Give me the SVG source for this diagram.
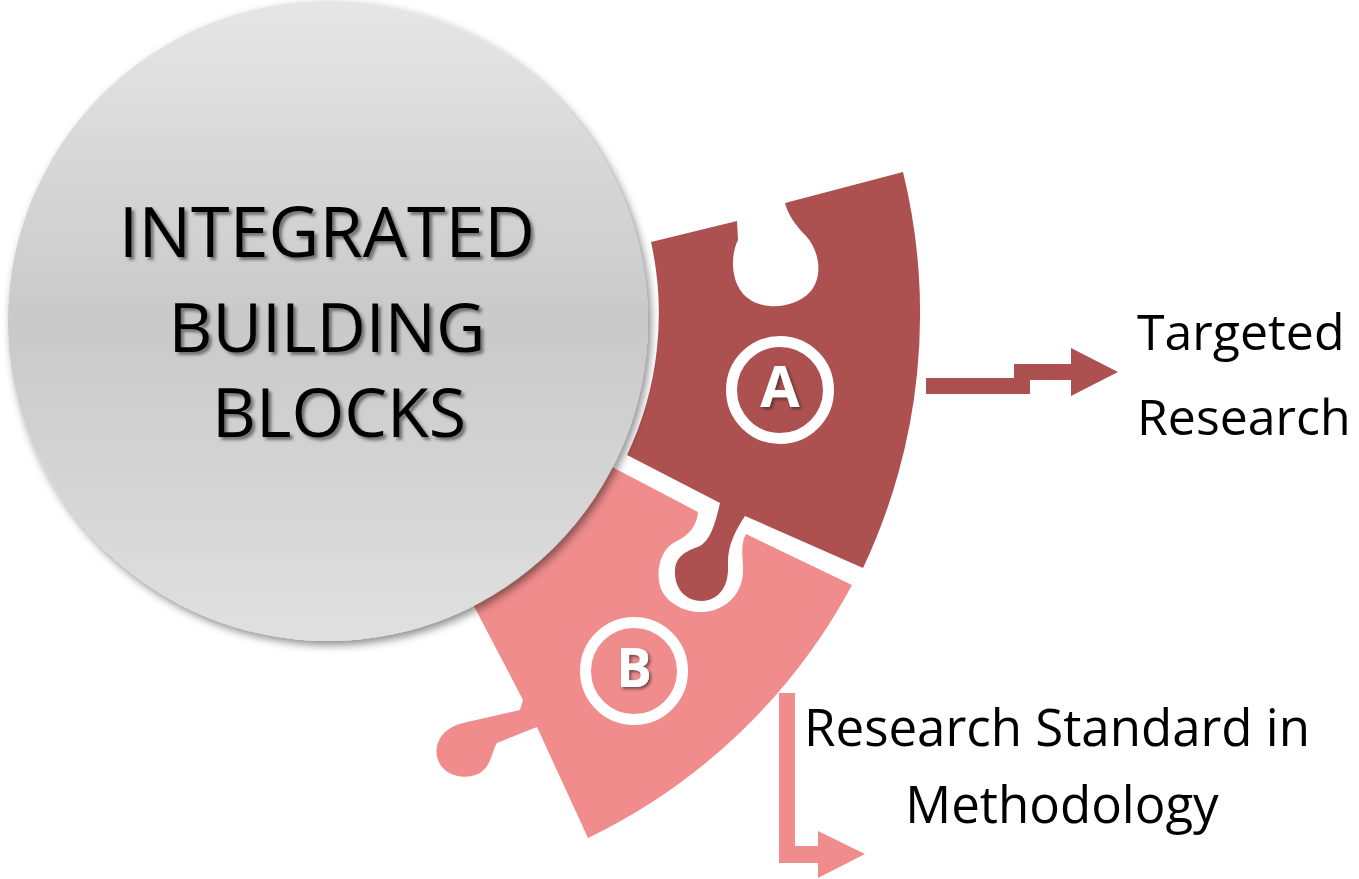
<svg xmlns="http://www.w3.org/2000/svg" width="1359" height="879" viewBox="0 0 1359 879">
  <defs>
    <linearGradient id="coreGrad" x1="0" y1="0" x2="0" y2="1">
      <stop offset="0" stop-color="#e6e6e6"/>
      <stop offset="0.5" stop-color="#c9c9c9"/>
      <stop offset="1" stop-color="#e0e0e0"/>
    </linearGradient>
    <filter id="circleShadow" x="-10%" y="-10%" width="125%" height="125%">
      <feDropShadow dx="3" dy="4" stdDeviation="4" flood-color="#000" flood-opacity="0.45"/>
    </filter>
    <filter id="textShadow" x="-10%" y="-10%" width="130%" height="140%">
      <feDropShadow dx="3" dy="3" stdDeviation="1.8" flood-color="#333" flood-opacity="0.6"/>
    </filter>
    <filter id="badgeShadow" x="-20%" y="-20%" width="150%" height="150%">
      <feDropShadow dx="2" dy="2" stdDeviation="1.5" flood-color="#222" flood-opacity="0.6"/>
    </filter>
  </defs>
  <style>
    .pieceA { fill: #ad5050; }
    .pieceB { fill: #f08c8c; }
    .ring { fill: none; stroke: #ffffff; stroke-width: 11; }
    .badge { font-family: "Open Sans", "Noto Sans", sans-serif; font-weight: bold; fill: #ffffff; text-anchor: middle; }
    .core { font-family: "Open Sans", "Noto Sans", sans-serif; font-size: 68px; fill: #000000; text-anchor: middle; }
    .core-wide { font-size: 70px; }
    .label { font-family: "Open Sans", "Noto Sans", sans-serif; fill: #000000; }
  </style>
  <rect width="1359" height="879" fill="#ffffff"/>

  <g id="node-b">
    <path class="pieceB" d="M 595,458 L 698,512 C 697,525 690,535 675,542 C 660,550 655,572 661,589 C 669,607 692,615 711,611 C 731,606 743,590 743,570 C 743,555 740,545 746,534 L 852,585 A 590 590 0 0 1 588,838 L 537,727 L 497,743 C 492,750 492,765 480,773 C 465,781 444,776 438,760 C 432,742 445,727 463,723 L 520,710 L 523,700 L 465,589 A 300 300 0 0 0 595,458 Z"/>
    <circle class="ring" cx="634" cy="671" r="48.5"/>
    <text class="badge" x="634" y="687" font-size="53" filter="url(#badgeShadow)">B</text>
  </g>

  <g id="node-a">
    <path class="pieceA" d="M 651,242 L 737,221 L 738,240 C 729,258 731,290 752,301 C 771,311 797,306 810,292 C 824,276 819,250 806,236 C 796,226 788,215 785,203 L 903,172 A 595 595 0 0 1 863,568 L 745,516 C 736,530 727,545 728,566 C 729,587 718,601 702,601 C 685,601 674,588 675,570 C 676,554 690,550 700,546 C 710,540 715,525 720,503 L 627,455 A 330 330 0 0 0 651,242 Z"/>
    <circle class="ring" cx="780" cy="390" r="48.5"/>
    <text class="badge" x="780" y="407" font-size="57" filter="url(#badgeShadow)">A</text>
  </g>

  <g id="node-core">
    <circle cx="328" cy="321" r="320" fill="url(#coreGrad)" filter="url(#circleShadow)"/>
    <g filter="url(#textShadow)">
      <text class="core core-wide" x="327" y="257">INTEGRATED</text>
      <text class="core" x="327" y="352">BUILDING</text>
      <text class="core" x="339" y="437">BLOCKS</text>
    </g>
  </g>

  <g id="connectors">
    <polygon class="pieceA" points="926,378 1014,378 1014,364 1071,364 1071,348 1118,372 1071,396 1071,380 1030,380 1030,394 926,394"/>
    <polygon class="pieceB" points="779,693 795,693 795,846 818,846 818,831 865,854 818,878 818,863 779,863"/>
  </g>

  <g id="label-a">
    <text class="label" x="1137" y="350" font-size="50">Targeted</text>
    <text class="label" x="1137" y="435" font-size="50">Research</text>
  </g>

  <g id="label-b">
    <text class="label" x="1057" y="746" font-size="51" text-anchor="middle">Research Standard in</text>
    <text class="label" x="1062" y="823" font-size="51" text-anchor="middle">Methodology</text>
  </g>
</svg>
